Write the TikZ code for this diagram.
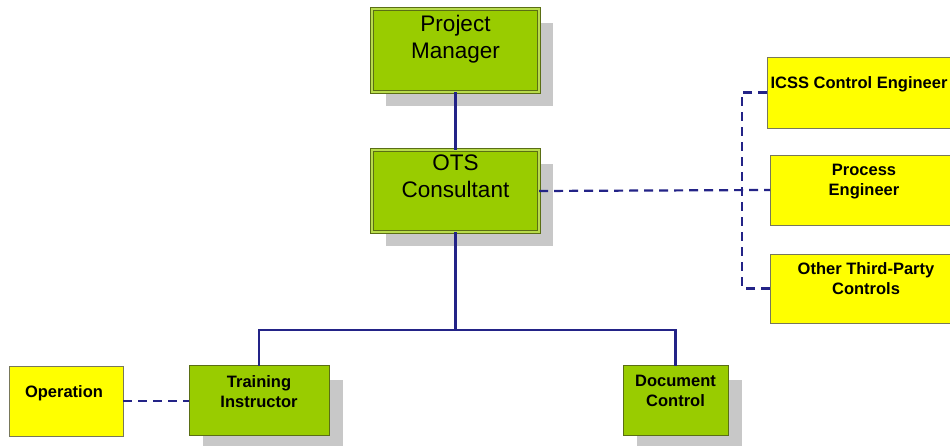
\documentclass[tikz,border=0pt]{standalone}
\usepackage{fontspec}
\setmainfont{Liberation Sans}
\usetikzlibrary{positioning,calc}

\definecolor{leafgreen}{RGB}{153,204,0}
\definecolor{olivedark}{RGB}{90,110,20}
\definecolor{boxyellow}{RGB}{255,255,0}
\definecolor{yellowedge}{RGB}{120,120,90}
\definecolor{linkblue}{RGB}{35,35,135}
\definecolor{shadowgray}{RGB}{200,200,200}

\tikzset{
  mgrbox/.style={fill=leafgreen, draw=olivedark, line width=1pt,
    double=leafgreen!70!white, double distance=1.3pt,
    minimum width=#1, inner sep=0pt, outer sep=0pt},
  teambox/.style={fill=leafgreen, draw=olivedark, line width=1pt,
    minimum width=#1, minimum height=70pt, inner sep=0pt, outer sep=0pt},
  supportbox/.style={fill=boxyellow, draw=yellowedge, line width=0.9pt,
    minimum width=#1, minimum height=70pt, inner sep=0pt, outer sep=0pt},
  boxshadow/.style={fill=shadowgray, draw=none},
  bigtext/.style={font=\fontsize{22.5}{27}\selectfont, align=center, inner sep=0pt, anchor=north},
  smalltext/.style={font=\fontsize{16.5}{20}\selectfont\bfseries, align=center, inner sep=0pt, anchor=north},
  solidlink/.style={draw=linkblue, line width=2.2pt},
  dashlink/.style={draw=linkblue, line width=2.2pt, dash pattern=on 9pt off 6pt},
}

\begin{document}
\begin{tikzpicture}[x=1pt,y=1pt]
\useasboundingbox (0,0) rectangle (950,446);
\clip (0,0) rectangle (950,446);
\fill[white] (0,0) rectangle (950,446);

% drop shadows behind the green boxes
\fill[boxshadow] (386,340) rectangle (553,423);
\fill[boxshadow] (386,200) rectangle (553,282);
\fill[boxshadow] (203,-4) rectangle (343,66);
\fill[boxshadow] (637,-4) rectangle (742,66);

% management boxes
\node[mgrbox=167pt, minimum height=83pt] (pm) at (455.5,395.5) {};
\node[mgrbox=167pt, minimum height=82pt] (ots) at (455.5,255) {};

% team boxes
\node[teambox=140pt] (train) at (259,45) {};
\node[teambox=105pt] (doc) at (675.5,45) {};

% supporting roles
\node[supportbox=114pt] (oper) at (66,45) {};
\node[supportbox=190pt, minimum height=71pt] (icss) at (862,353.5) {};
\node[supportbox=188pt] (proc) at (864,256) {};
\node[supportbox=188pt, minimum height=69pt] (other) at (864,157.5) {};

% labels
\node[bigtext] (pmtxt) at (455.5,431) {Project\\Manager};
\node[bigtext] (otstxt) at (455.5,291) {OTS\\Consultant};
\node[smalltext] (traintxt) at (259,71) {Training\\Instructor};
\node[smalltext] (doctxt) at (675.5,71) {Document\\Control};
\node[smalltext] (opertxt) at (64,61) {Operation};
\node[smalltext] (icsstxt) at (859,370) {ICSS Control Engineer};
\node[smalltext] (proctxt) at (864,282) {Process\\Engineer};
\node[smalltext] (othertxt) at (866,184) {Other Third-Party\\Controls};

% reporting lines
\coordinate (bus) at (455.5,116);
\draw[solidlink] (pm.south) -- (ots.north);
\draw[solidlink] (ots.south) -- (bus);
\draw[solidlink] (train.north) |- (bus) -| (doc.north);

% advisory links
\coordinate (rail) at (742,256);
\draw[dashlink] (ots.east) -- (proc.west);
\draw[dashlink] (icss.west) -| (rail) |- (other.west);
\draw[dashlink] (oper.east) -- (train.west);
\end{tikzpicture}
\end{document}
